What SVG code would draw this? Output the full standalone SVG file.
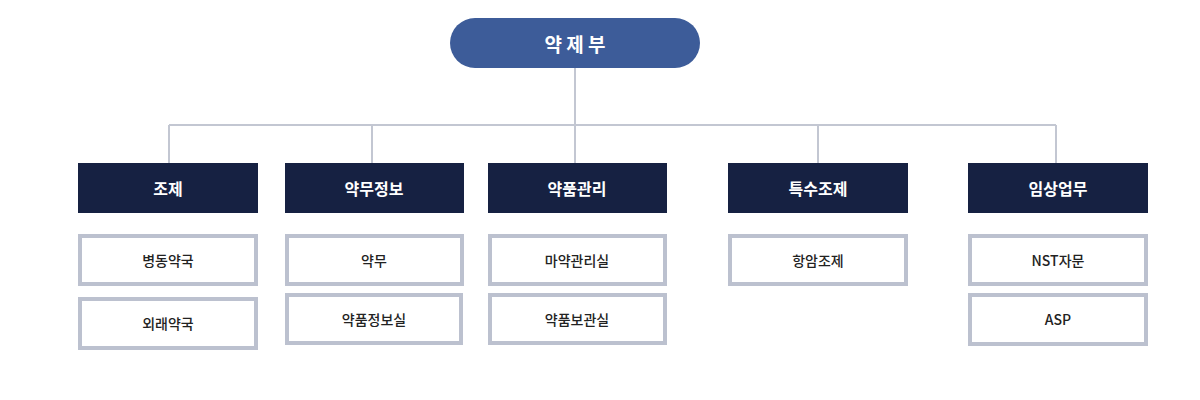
<svg xmlns="http://www.w3.org/2000/svg" width="1200" height="400" viewBox="0 0 1200 400">
<style>
.t{font-family:"Noto Sans CJK KR","Noto Sans",sans-serif;text-anchor:middle;dominant-baseline:central}
.head rect{fill:#162142}
.head text{fill:#fff;font-size:16px;font-weight:700}
.sub rect{fill:#fff;stroke:#bcc1cf;stroke-width:4}
.sub text{fill:#222;font-size:14px;font-weight:500}
.c{stroke:#c3c7d2;stroke-width:2;fill:none}
</style>
<rect width="1200" height="400" fill="#fff"/>
<g id="connectors" class="c">
<path d="M575 68V163M169 125H1056M169 125V163M372 125V163M818 125V163M1056 125V163"/>
</g>
<g id="root"><rect x="450" y="18" width="250" height="50" rx="25" fill="#3d5c99"/><text class="t" x="575" y="43" fill="#fff" font-size="19" font-weight="700">약 제 부</text></g>
<g id="n1" class="head"><rect x="78" y="163" width="180" height="50"/><text class="t" x="168" y="188">조제</text></g>
<g id="n2" class="head"><rect x="285" y="163" width="179" height="50"/><text class="t" x="374" y="188">약무정보</text></g>
<g id="n3" class="head"><rect x="488" y="163" width="179" height="50"/><text class="t" x="577" y="188">약품관리</text></g>
<g id="n4" class="head"><rect x="728" y="163" width="180" height="50"/><text class="t" x="818" y="188">특수조제</text></g>
<g id="n5" class="head"><rect x="968" y="163" width="180" height="50"/><text class="t" x="1058" y="188">임상업무</text></g>
<g id="s1" class="sub"><rect x="80" y="236" width="176" height="48"/><text class="t" x="168" y="260">병동약국</text></g>
<g id="s2" class="sub"><rect x="80" y="299" width="176" height="49"/><text class="t" x="168" y="323">외래약국</text></g>
<g id="s3" class="sub"><rect x="287" y="236" width="175" height="48"/><text class="t" x="374" y="260">약무</text></g>
<g id="s4" class="sub"><rect x="287" y="295" width="174" height="48"/><text class="t" x="374" y="319">약품정보실</text></g>
<g id="s5" class="sub"><rect x="490" y="236" width="175" height="48"/><text class="t" x="577" y="260">마약관리실</text></g>
<g id="s6" class="sub"><rect x="490" y="295" width="175" height="48"/><text class="t" x="577" y="319">약품보관실</text></g>
<g id="s7" class="sub"><rect x="730" y="236" width="176" height="48"/><text class="t" x="818" y="260">항암조제</text></g>
<g id="s8" class="sub"><rect x="970" y="236" width="176" height="48"/><text class="t" x="1058" y="260">NST자문</text></g>
<g id="s9" class="sub"><rect x="970" y="295" width="176" height="49"/><text class="t" x="1058" y="319">ASP</text></g>
</svg>
